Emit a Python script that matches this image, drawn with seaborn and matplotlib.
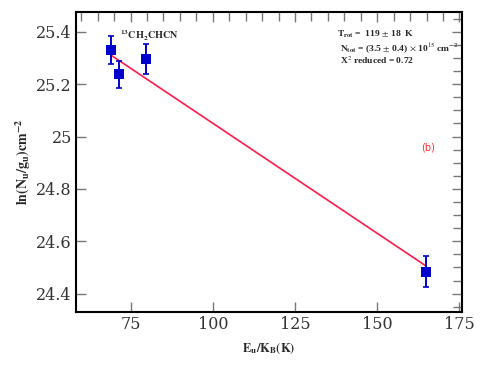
import numpy as np
import pandas as pd
import matplotlib
matplotlib.use("Agg")
import matplotlib.pyplot as plt
import seaborn as sns
from matplotlib.ticker import MultipleLocator

# Data
eu_kb = [69.0, 71.4, 79.6, 164.9]
ln_nu_gu = [25.330, 25.237, 25.296, 24.483]
ln_err = [0.052, 0.051, 0.057, 0.059]

# Fit parameters (T_rot and intercept of the straight line)
t_rot = 119.0
intercept = 25.891

df = pd.DataFrame({"x": eu_kb, "y": ln_nu_gu, "err": ln_err})
fit_x = [min(eu_kb), max(eu_kb)]
fit = pd.DataFrame({"x": fit_x, "y": [intercept - v / t_rot for v in fit_x]})

sns.set_style("ticks")
plt.rcParams["mathtext.fontset"] = "stix"
plt.rcParams["font.family"] = ["DejaVu Serif"]

fig = plt.figure(figsize=(4.91, 3.68), dpi=100)
ax = fig.add_axes([0.1548, 0.1522, 0.7862, 0.8148])

sns.lineplot(data=fit, x="x", y="y", color="#ff1a4b", lw=1.2, ax=ax)

ax.errorbar(
    df["x"], df["y"], yerr=df["err"],
    fmt="none", ecolor="#0000cc", elinewidth=1.4, capsize=2, capthick=1.2,
    zorder=3
)

sns.scatterplot(
    data=df, x="x", y="y", marker="s", s=55,
    color="#0000cc", edgecolor="#0000cc", linewidth=0, zorder=4, ax=ax
)

ax.set_xlim(58.4, 175.8)
ax.set_ylim(24.33, 25.475)

ax.xaxis.set_major_locator(MultipleLocator(25))
ax.xaxis.set_minor_locator(MultipleLocator(5))
ax.yaxis.set_major_locator(MultipleLocator(0.2))
ax.yaxis.set_minor_locator(MultipleLocator(0.05))
ax.yaxis.set_major_formatter(matplotlib.ticker.FuncFormatter(lambda v, p: f"{v:g}"))

ax.tick_params(which="major", direction="in", length=7, width=1,
               color="#777777", top=True, right=True, labelsize=11.5, pad=3,
               labelcolor="#333333")
ax.tick_params(which="minor", direction="in", length=6.5, width=1,
               color="#777777", top=True, bottom=False, left=False, right=True)

for s in ax.spines.values():
    s.set_linewidth(1.5)
    s.set_color("black")

ax.set_xlabel(r"$\mathbf{E_u/K_B(K)}$", fontsize=9, labelpad=6)
ax.set_ylabel(r"$\mathbf{ln(N_u/g_u)cm^{-2}}$", fontsize=10, labelpad=2)

ax.text(0.115, 0.922, r"$\mathbf{^{13}CH_2CHCN}$", transform=ax.transAxes,
        fontsize=7.3, va="center", ha="left")

ax.text(0.677, 0.925, r"$\mathbf{T_{rot}}$ =  119 $\pm$ 18  K",
        transform=ax.transAxes, fontsize=6.8, va="center", ha="left",
        family="Liberation Serif", weight="bold")
ax.text(0.683, 0.881, r"$\mathbf{N_{tot}}$ = (3.5 $\pm$ 0.4) $\times$ 10$^{15}$ cm$^{-2}$",
        transform=ax.transAxes, fontsize=6.8, va="center", ha="left",
        family="Liberation Serif", weight="bold")
ax.text(0.683, 0.838, r"X$^{2}$ reduced = 0.72",
        transform=ax.transAxes, fontsize=6.8, va="center", ha="left",
        family="Liberation Serif", weight="bold")

ax.text(0.912, 0.55, "(b)", transform=ax.transAxes, fontsize=7,
        color="#ff2a2a", family="DejaVu Sans", va="center", ha="center")

fig.savefig("out.png", dpi=100)
